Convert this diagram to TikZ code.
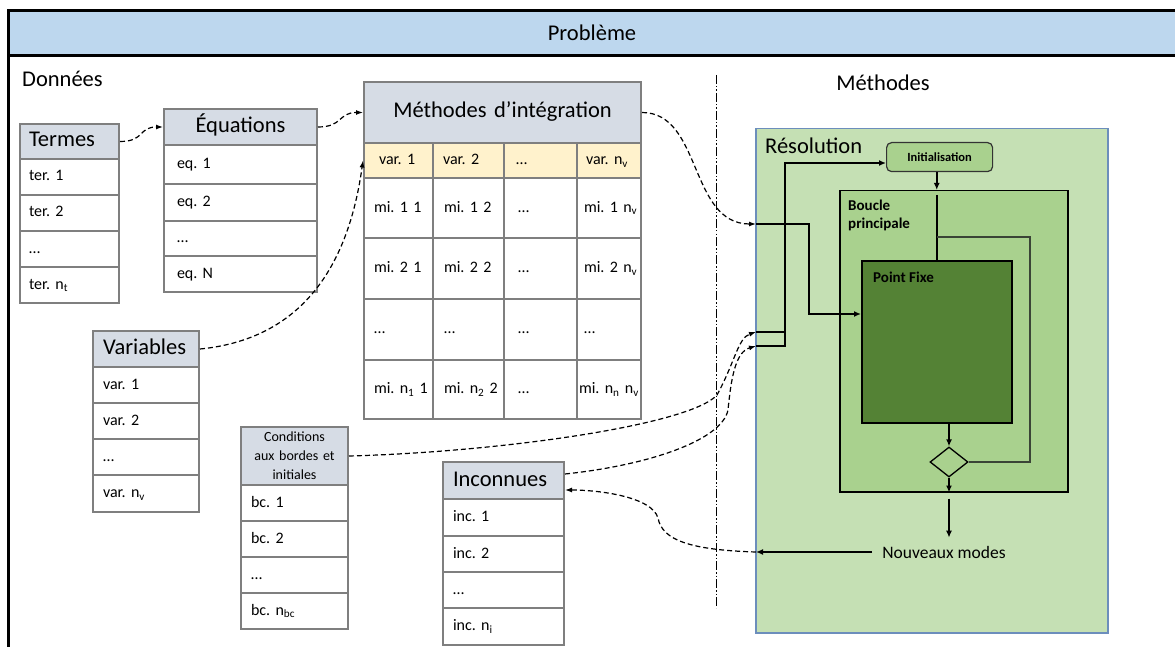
\documentclass[tikz,border=0pt]{standalone}
\usepackage{fontspec}
\setmainfont{Carlito}
\usetikzlibrary{arrows.meta,shapes.geometric,calc}
\frenchspacing
\definecolor{hdrblue}{HTML}{BDD7EE}
\definecolor{thead}{HTML}{D6DCE5}
\definecolor{tvar}{HTML}{FFF2CC}
\definecolor{tgray}{HTML}{7F7F7F}
\definecolor{resfill}{HTML}{C5E0B4}
\definecolor{resline}{HTML}{6C8EBC}
\definecolor{midgreen}{HTML}{A9D18E}
\definecolor{darkgreen}{HTML}{548235}
\definecolor{loopgray}{HTML}{3A4436}
\newcommand\fhdr{\fontsize{22.5}{26}\selectfont}
\newcommand\frow{\fontsize{16}{19}\selectfont}
\newcommand\fcond{\fontsize{14}{19}\selectfont}
\newcommand\flab{\fontsize{22.5}{26}\selectfont}
\newcommand\fbold{\fontsize{15}{18}\selectfont\bfseries}
\newcommand\finit{\fontsize{12.5}{14}\selectfont\bfseries}
\newcommand\fnm{\fontsize{17.5}{20}\selectfont}
\begin{document}
\begin{tikzpicture}[x=1pt,y=-1pt,
  tbase/.style={draw=tgray, line width=2pt, fill=white, anchor=north west, align=left, font=\frow, inner ysep=0pt, text=black},
  tcell/.style={tbase, text height=11pt, text depth=3pt},
  thdr/.style={tbase, fill=thead, font=\fhdr, text height=15pt, text depth=4pt},
  tvarc/.style={tcell, fill=tvar},
  colT/.style={text width=81pt, inner xsep=9pt},
  colE/.style={text width=127pt, inner xsep=13pt},
  colV/.style={text width=86pt, inner xsep=10pt},
  colC/.style={text width=87pt, inner xsep=10pt},
  colI/.style={text width=101pt, inner xsep=10pt},
  mA/.style={text width=49pt, inner xsep=10pt},
  mB/.style={text width=49pt, inner xsep=11pt},
  mC/.style={text width=45pt, inner xsep=14pt},
  mD/.style={text width=50pt, inner xsep=7pt},
  sarrow/.style={draw=black, line width=1.5pt, -{Latex[length=7pt,width=6pt]}},
  sline/.style={draw=black, line width=1.5pt},
  loopl/.style={draw=loopgray, line width=1.5pt},
  dconn/.style={draw=black, line width=1.2pt, dash pattern=on 5pt off 3pt, -{Latex[length=7pt,width=5pt]}},
  lab/.style={font=\flab, inner sep=0pt, text=black}
]
\useasboundingbox (0,0) rectangle (1175,647);
\clip (0,0) rectangle (1175,647);
\fill[white] (0,0) rectangle (1175,647);
% frame
\fill[hdrblue] (8,11) rectangle (1190,56);
\draw[line width=3pt] (8.5,700) -- (8.5,11) -- (1190,11);
\draw[line width=3pt] (8.5,56) -- (1190,56);
\node[lab] (prob) at (592,33) {Problème};
\node[lab, anchor=west] (donnees) at (22,79) {Données};
\node[lab] (methodes) at (883,83) {Méthodes};
% separator
\draw[line width=1pt, dash pattern=on 9pt off 2pt on 1.5pt off 2pt on 1.5pt off 2pt] (716,75) -- (716,608);

% Termes
\node[tcell, colT, minimum height=36pt] (ter1) at (19,158) {ter. 1};
\node[tcell, colT, minimum height=36pt] (ter2) at (19,194) {ter. 2};
\node[tcell, colT, minimum height=36pt] (ter3) at (19,230) {…};
\node[tcell, colT, minimum height=36pt] (ter4) at (19,266) {ter.~n\textsubscript{t}};
\node[thdr, colT, minimum height=35pt] (termes) at (19,123) {Termes};

% Equations
\node[tcell, colE, minimum height=39pt] (eq1) at (163,144) {eq. 1};
\node[tcell, colE, minimum height=37pt] (eq2) at (163,183) {eq. 2};
\node[tcell, colE, minimum height=35pt] (eq3) at (163,220) {…};
\node[tcell, colE, minimum height=36pt] (eq4) at (163,255) {eq. N};
\node[thdr, colE, align=center, minimum height=36pt] (equ) at (163,108) {Équations};

% Methodes d'integration
\node[tcell, mA, minimum height=60pt] (m11) at (363,177) {mi.~1~1};
\node[tcell, mB, minimum height=60pt] (m12) at (432,177) {mi.~1~2};
\node[tcell, mC, minimum height=60pt] (m13) at (503,177) {…};
\node[tcell, mD, minimum height=60pt] (m14) at (576,177) {mi.~1~n\textsubscript{v}};
\node[tcell, mA, minimum height=61pt] (m21) at (363,237) {mi.~2~1};
\node[tcell, mB, minimum height=61pt] (m22) at (432,237) {mi.~2~2};
\node[tcell, mC, minimum height=61pt] (m23) at (503,237) {…};
\node[tcell, mD, minimum height=61pt] (m24) at (576,237) {mi.~2~n\textsubscript{v}};
\node[tcell, mA, minimum height=61pt] (m31) at (363,298) {…};
\node[tcell, mB, minimum height=61pt] (m32) at (432,298) {…};
\node[tcell, mC, minimum height=61pt] (m33) at (503,298) {…};
\node[tcell, mD, minimum height=61pt] (m34) at (576,298) {…};
\node[tcell, mA, minimum height=59pt] (m41) at (363,359) {mi.~n\textsubscript{1}~1};
\node[tcell, mB, minimum height=59pt] (m42) at (432,359) {mi.~n\textsubscript{2}~2};
\node[tcell, mC, minimum height=59pt] (m43) at (503,359) {…};
\node[tcell, text width=60pt, inner xsep=2pt, minimum height=59pt] (m44) at (576,359) {mi.~n\textsubscript{n}~n\textsubscript{v}};
\node[tvarc, text width=39pt, inner xsep=15pt, minimum height=35pt] (v1) at (363,142) {var. 1};
\node[tvarc, text width=51pt, inner xsep=10pt, minimum height=35pt] (v2) at (432,142) {var. 2};
\node[tvarc, text width=49pt, inner xsep=12pt, minimum height=35pt] (v3) at (503,142) {…};
\node[tvarc, text width=46pt, inner xsep=9pt, minimum height=35pt] (v4) at (576,142) {var.~n\textsubscript{v}};
\node[thdr, text width=257pt, inner xsep=10pt, align=center, minimum height=61pt] (meth) at (363,81) {Méthodes d’intégration};

% Variables
\node[tcell, colV, minimum height=36pt] (var1) at (92,366) {var. 1};
\node[tcell, colV, minimum height=36pt] (var2) at (92,402) {var. 2};
\node[tcell, colV, minimum height=36pt] (var3) at (92,438) {…};
\node[tcell, colV, minimum height=37pt] (var4) at (92,474) {var.~n\textsubscript{v}};
\node[thdr, colV, minimum height=36pt] (vars) at (92,330) {Variables};

% Conditions
\node[tcell, colC, minimum height=36pt] (bc1) at (240,484) {bc. 1};
\node[tcell, colC, minimum height=36pt] (bc2) at (240,520) {bc. 2};
\node[tcell, colC, minimum height=36pt] (bc3) at (240,556) {…};
\node[tcell, colC, minimum height=36pt] (bc4) at (240,592) {bc.~n\textsubscript{bc}};
\node[tbase, fill=thead, font=\fcond, text width=97pt, inner xsep=5pt, align=center, minimum height=58pt] (cond) at (240,426) {Conditions\\aux bordes et\\initiales};

% Inconnues
\node[tcell, colI, minimum height=37pt] (inc1) at (442,498) {inc. 1};
\node[tcell, colI, minimum height=36pt] (inc2) at (442,535) {inc. 2};
\node[tcell, colI, minimum height=36pt] (inc3) at (442,571) {…};
\node[tcell, colI, minimum height=37pt] (inc4) at (442,607) {inc.~n\textsubscript{i}};
\node[thdr, colI, minimum height=37pt] (inc) at (442,461) {Inconnues};

% Resolution
\node[draw=resline, line width=1.5pt, fill=resfill, anchor=north west, minimum width=352pt, minimum height=504pt, inner sep=0pt] (res) at (755,128) {};
\node[lab, anchor=west] (reslab) at (765,146) {Résolution};
\node[draw=black!80, line width=1.2pt, fill=midgreen, rounded corners=5pt, anchor=north west, minimum width=106pt, minimum height=29pt, inner sep=0pt, font=\finit] (init) at (886,142) {Initialisation};
\node[draw=black, line width=1.5pt, fill=midgreen, anchor=north west, minimum width=228pt, minimum height=301pt, inner sep=0pt] (boucle) at (839,190) {};
\node[font=\fbold, anchor=north west, align=left, inner sep=0pt] (bouclelab) at (848,200) {Boucle\\principale};
\node[draw=black, line width=1.5pt, fill=darkgreen, anchor=north west, minimum width=150pt, minimum height=162pt, inner sep=0pt] (pf) at (861,260) {};
\node[font=\fbold, anchor=west, inner sep=0pt] (pflab) at (873,277) {Point Fixe};
\node[draw=black, line width=1.3pt, fill=midgreen, diamond, minimum width=38pt, minimum height=30pt, inner sep=0pt] (dia) at (949,462) {};
\node[font=\fnm, inner xsep=10pt, inner ysep=2pt] (nm) at (944,552) {Nouveaux modes};

\coordinate (e1) at (756,224);
\coordinate (e2) at (756,332);
\coordinate (e3) at (756,346);
\coordinate (e4) at (756,552);

\draw[sarrow] (init.south -| pf.north) -- (boucle.north -| pf.north);
\draw[sline] ($(boucle.north -| pf.north)+(0,5)$) -- (pf.north);
\draw[loopl] (dia.east) -| (1030,237) -- (pf.north |- 1030,237);
\draw[sarrow] (dia.north |- pf.south) -- (dia.north);
\draw[sarrow] (dia.south) -- (dia.south |- boucle.south);
\draw[sarrow] ($(dia.south |- boucle.south)+(0,6)$) -- ($(dia.south |- nm.north)+(0,-6)$);
\draw[sarrow] (nm.west) -- (e4);
\draw[sarrow] (e1) -- (809,224) -- (809,314) -- (pf.west |- 809,314);
\draw[sarrow] (e3) -- (785,346) -- (785,163) -- (init.west |- 785,163);
\draw[sline] (e2) -- (786,332);

% dashed connectors
\draw[dconn] (termes.east) .. controls +(25,0) and +(-25,0) .. (equ.west);
\draw[dconn] (equ.east) .. controls +(25,0) and +(-25,0) .. (meth.west);
\draw[dconn] (vars.east) .. controls +(82,-8) and +(-18,130) .. (v1.west);
\draw[dconn] (meth.east) .. controls +(60,0) and +(-67,0) .. (e1);
\draw[dconn] (cond.east) .. controls (500,452) and (690,425) .. (717,395) .. controls (735,362) and (738,338) .. (e2);
\draw[dconn] ([yshift=6.5pt]inc.east) .. controls (650,465) and (722,440) .. (728,410) .. controls (731,380) and (735,352) .. (e3);
\draw[dconn] (e4) .. controls (690,550) and (662,540) .. (658,518) .. controls (652,497) and (600,490) .. ([yshift=-9.5pt]inc.east);
\end{tikzpicture}
\end{document}
